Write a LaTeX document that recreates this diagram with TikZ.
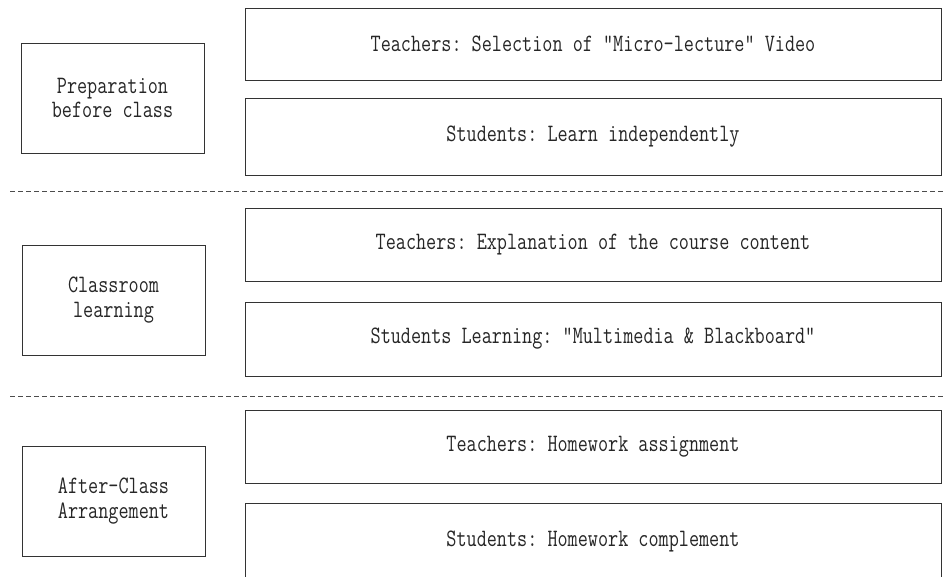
\documentclass[tikz,border=0pt]{standalone}
\usepackage{fontspec}
\setmonofont{Latin Modern Mono}[FakeStretch=0.785]
\begin{document}
\begin{tikzpicture}[x=1pt,y=-1pt,
  every node/.style={font=\ttfamily\fontsize{25}{24.5}\selectfont, text=black!85},
  stage/.style={draw=black!80, line width=0.9pt, minimum width=183pt, minimum height=110pt,
    anchor=north west, outer sep=0pt, align=center},
  task/.style={draw=black!80, line width=0.9pt, minimum width=696pt,
    anchor=north west, outer sep=0pt},
  divider/.style={draw=black!70, line width=0.8pt, dash pattern=on 5pt off 3pt}]
  \clip (0,0) rectangle (944,577);
  \fill[white] (0,0) rectangle (944,577);

  % stage labels on the left
  \node[stage] (prep) at (21,43) {Preparation\\before class};
  \node[stage] (cls)  at (22,245) {Classroom\\learning};
  \node[stage] (after) at (22,446) {After-Class\\Arrangement};

  % teacher and student tasks of each stage
  \node[task, minimum height=72pt] (t1) at (245,8)   {Teachers: Selection of "Micro-lecture" Video};
  \node[task, minimum height=77pt] (s1) at (245,98)  {Students: Learn independently};
  \node[task, minimum height=73pt] (t2) at (245,208) {Teachers: Explanation of the course content};
  \node[task, minimum height=74pt] (s2) at (245,302) {Students Learning: "Multimedia \& Blackboard"};
  \node[task, minimum height=73pt] (t3) at (245,410) {Teachers: Homework assignment};
  \node[task, minimum height=76pt] (s3) at (245,503) {Students: Homework complement};

  % dashed separators between the stages
  \coordinate (d1a) at (10,191);  \coordinate (d1b) at (944,191);
  \coordinate (d2a) at (10,396);  \coordinate (d2b) at (944,396);
  \draw[divider] (d1a) -- (d1b);
  \draw[divider] (d2a) -- (d2b);
\end{tikzpicture}
\end{document}
